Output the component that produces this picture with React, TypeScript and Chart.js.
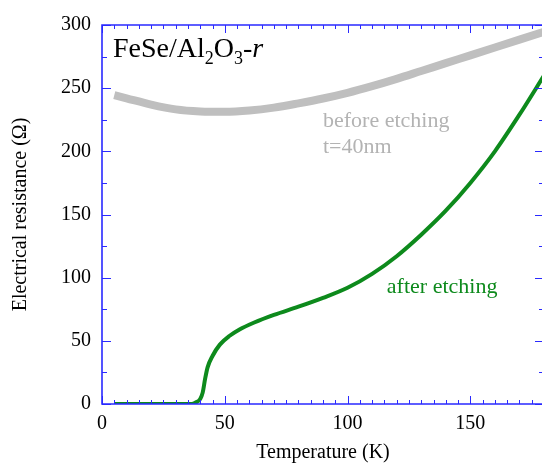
import React, { useEffect, useRef } from "react";
import { Chart, registerables } from "chart.js";

Chart.register(...registerables);

// Temperature (K) and resistance (Ohm) — before etching (t = 40 nm)
const beforeT = [5, 10, 20, 30, 40, 50, 60, 70, 80, 90, 100, 110, 120, 130, 140, 150, 160, 170, 180];
const beforeR = [244.5, 242, 237, 233.2, 231.6, 231.3, 232.3, 234.6, 238, 241.8, 246.3, 251.6, 257.4, 263.6, 269.8, 276, 282.2, 288.4, 294.6];

// after etching
const afterT = [5, 20, 36.5, 38, 40, 41, 42, 43, 45, 48, 52, 56, 62, 70, 80, 90, 100, 110, 120, 130, 140, 150, 160, 170, 180];
const afterR = [0, 0, 0, 1, 4, 9, 20, 29, 38, 47, 54, 59, 64.5, 70.5, 77, 84, 92, 103, 117, 134, 153, 175, 200, 229, 260];

const xTickValues = [0, 50, 100, 150];
const yTickValues = [0, 50, 100, 150, 200, 250, 300];

const SERIF = '"Liberation Serif", "Times New Roman", serif';
const AXIS_BLUE = "#2a2aff";
const GRAY = "#bfbfbf";
const GREEN = "#0d8a1c";

const frameTicks = {
  id: "frameTicks",
  afterDatasetsDraw(chart: any) {
    const { ctx, chartArea } = chart;
    const xs = chart.scales.x;
    const ys = chart.scales.y;
    const { left, right, top, bottom } = chartArea;
    ctx.save();
    ctx.strokeStyle = AXIS_BLUE;
    ctx.lineWidth = 1;
    for (let v = 0; v <= 180; v += 5) {
      const px = Math.round(xs.getPixelForValue(v)) + 0.5;
      const len = v % 50 === 0 ? 8 : 4;
      ctx.beginPath();
      ctx.moveTo(px, bottom);
      ctx.lineTo(px, bottom - len);
      ctx.moveTo(px, top);
      ctx.lineTo(px, top + len);
      ctx.stroke();
    }
    for (let v = 0; v <= 300; v += 25) {
      const py = Math.round(ys.getPixelForValue(v)) + 0.5;
      const len = v % 50 === 0 ? 9 : 5;
      ctx.beginPath();
      ctx.moveTo(left, py);
      ctx.lineTo(left + len, py);
      ctx.moveTo(right, py);
      ctx.lineTo(right - len, py);
      ctx.stroke();
    }
    ctx.lineWidth = 1.6;
    ctx.beginPath();
    ctx.rect(left, top, right - left, bottom - top);
    ctx.stroke();
    ctx.restore();
  },
  afterDraw(chart: any) {
    const { ctx } = chart;
    const xs = chart.scales.x;
    const ys = chart.scales.y;
    ctx.save();
    ctx.textBaseline = "alphabetic";
    ctx.textAlign = "left";
    let x = xs.getPixelForValue(4.5);
    const yb = ys.getPixelForValue(274.7);
    const big = `28px ${SERIF}`;
    const small = `18px ${SERIF}`;
    ctx.fillStyle = "#000";
    const parts: [string, string, number][] = [
      ["FeSe/Al", big, 0],
      ["2", small, 7],
      ["O", big, 0],
      ["3", small, 7],
      ["-", big, 0],
      ["r", `italic 28px ${SERIF}`, 0],
    ];
    for (const [t, f, dy] of parts) {
      ctx.font = f;
      ctx.fillText(t, x, yb + dy);
      x += ctx.measureText(t).width;
    }
    ctx.font = `22px ${SERIF}`;
    ctx.fillStyle = "#b3b3b3";
    ctx.fillText("before etching", xs.getPixelForValue(90), ys.getPixelForValue(219.3));
    ctx.fillText("t=40nm", xs.getPixelForValue(90), ys.getPixelForValue(198.7));
    ctx.fillStyle = GREEN;
    ctx.fillText("after etching", xs.getPixelForValue(116), ys.getPixelForValue(87.9));
    ctx.restore();
  },
};

export default function App() {
  const ref = useRef<HTMLCanvasElement>(null);
  useEffect(() => {
    if (!ref.current) return;
    const chart = new Chart(ref.current, {
      type: "scatter",
      data: {
        datasets: [
          {
            label: "after etching",
            data: afterT.map((t, i) => ({ x: t, y: afterR[i] })),
            showLine: true,
            borderColor: GREEN,
            borderWidth: 4,
            pointRadius: 0,
            cubicInterpolationMode: "monotone",
          },
          {
            label: "before etching",
            data: beforeT.map((t, i) => ({ x: t, y: beforeR[i] })),
            showLine: true,
            borderColor: GRAY,
            borderWidth: 8,
            pointRadius: 0,
            cubicInterpolationMode: "monotone",
          },
        ],
      },
      options: {
        animation: false,
        responsive: false,
        devicePixelRatio: 1,
        layout: { padding: { left: 0, right: 16, top: 25, bottom: 0 } },
        plugins: { legend: { display: false }, tooltip: { enabled: false } },
        scales: {
          x: {
            type: "linear",
            min: 0,
            max: 180,
            afterBuildTicks: (s: any) => {
              s.ticks = xTickValues.map((v) => ({ value: v }));
            },
            afterFit: (s: any) => {
              s.height = 61;
            },
            ticks: { color: "#000", font: { family: SERIF, size: 20 }, padding: 8 },
            grid: { display: false, drawTicks: false },
            border: { display: false },
            title: {
              display: true,
              text: "Temperature (K)",
              color: "#000",
              font: { family: SERIF, size: 20 },
              padding: { top: 0, bottom: 0 },
            },
          },
          y: {
            type: "linear",
            min: 0,
            max: 300,
            afterBuildTicks: (s: any) => {
              s.ticks = yTickValues.map((v) => ({ value: v }));
            },
            afterFit: (s: any) => {
              s.width = 102;
            },
            ticks: { color: "#000", font: { family: SERIF, size: 20 }, padding: 11 },
            grid: { display: false, drawTicks: false },
            border: { display: false },
            title: {
              display: true,
              text: "Electrical resistance (Ω)",
              color: "#000",
              font: { family: SERIF, size: 20 },
              padding: { top: 9, bottom: 0 },
            },
          },
        },
      },
      plugins: [frameTicks],
    });
    return () => chart.destroy();
  }, []);
  return (
    <div
      style={{
        position: "absolute",
        left: 0,
        top: 0,
        width: 542,
        height: 465,
        overflow: "hidden",
        background: "#fff",
      }}
    >
      <canvas ref={ref} width={560} height={465} style={{ display: "block" }} />
    </div>
  );
}
